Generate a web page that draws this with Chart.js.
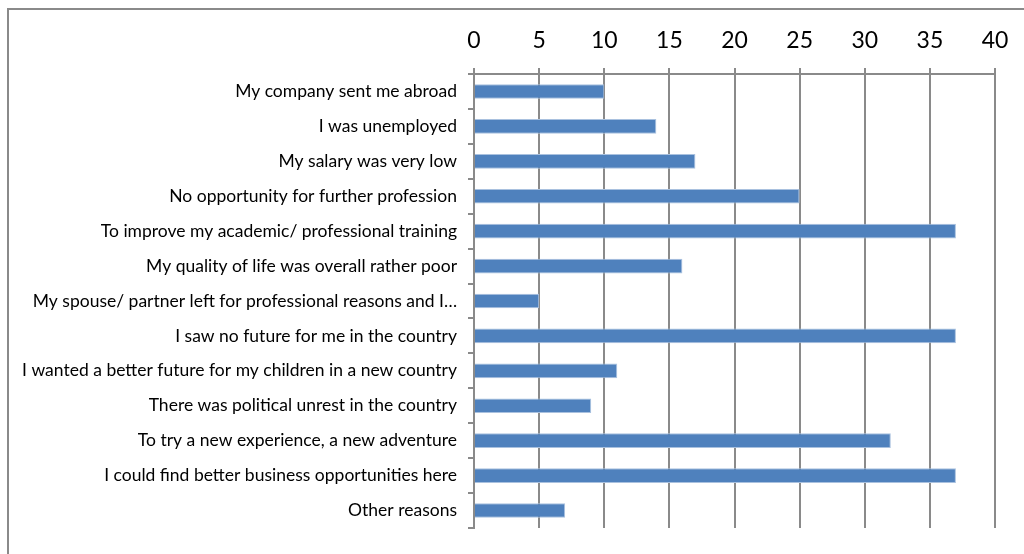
<!DOCTYPE html>
<html>
<head>
<meta charset="utf-8">
<script src="https://cdn.jsdelivr.net/npm/chart.js@4"></script>
<style>
  html, body { margin: 0; padding: 0; background: #fff; }
  #wrap { position: relative; width: 1024px; height: 554px; }
  #frame { position: absolute; left: 7px; top: 8px; right: -2px; bottom: -2px;
           border-left: 2px solid #8a8a8a; border-top: 2px solid #8a8a8a; }
  canvas { position: absolute; left: 0; top: 0; }
</style>
</head>
<body>
<div id="wrap">
  <div id="frame"></div>
  <canvas id="reasonsChart" width="1024" height="554"></canvas>
</div>
<script>
/* Reasons for leaving the country */
const categories = [
  'My company sent me abroad',
  'I was unemployed',
  'My salary was very low',
  'No opportunity for further profession',
  'To improve my academic/ professional training',
  'My quality of life was overall rather poor',
  'My spouse/ partner left for professional reasons and I\u2026',
  'I saw no future for me in the country',
  'I wanted a better future for my children in a new country',
  'There was political unrest in the country',
  'To try a new experience, a new adventure',
  'I could find better business opportunities here',
  'Other reasons',
];
const counts = [10, 14, 17, 25, 37, 16, 5, 37, 11, 9, 32, 37, 7];
const xTicks = [0, 5, 10, 15, 20, 25, 30, 35, 40];

const BAR_BLUE  = '#4f81bd';
const BAR_EDGE  = '#a9c1df';
const GRID_GREY = '#8a8a8a';

new Chart(document.getElementById('reasonsChart'), {
  type: 'bar',
  data: {
    labels: categories,
    datasets: [{
      data: counts,
      backgroundColor: BAR_BLUE,
      borderColor: BAR_EDGE,
      borderWidth: 1,
      borderSkipped: 'left',
      categoryPercentage: 1,
      barPercentage: 0.42,
    }],
  },
  options: {
    indexAxis: 'y',
    responsive: false,
    animation: false,
    layout: { padding: { left: 10, right: 29, top: 8, bottom: 26 } },
    plugins: { legend: { display: false }, tooltip: { enabled: false } },
    scales: {
      x: {
        position: 'top',
        min: 0,
        max: 40,
        afterBuildTicks: axis => { axis.ticks = xTicks.map(v => ({ value: v })); },
        afterFit: axis => { axis.height = 66; },
        grid: { color: GRID_GREY, lineWidth: 2, tickLength: 6 },
        border: { color: GRID_GREY, width: 2 },
        ticks: { font: { family: 'Lato', size: 23 }, color: '#000', padding: 14 },
      },
      y: {
        afterFit: axis => { axis.width = 464; },
        grid: { drawOnChartArea: false, color: GRID_GREY, lineWidth: 2, tickLength: 6, offset: true },
        border: { color: GRID_GREY, width: 2 },
        ticks: { font: { family: 'Lato', size: 17.5 }, color: '#000', padding: 11, autoSkip: false },
      },
    },
  },
});
</script>
</body>
</html>
